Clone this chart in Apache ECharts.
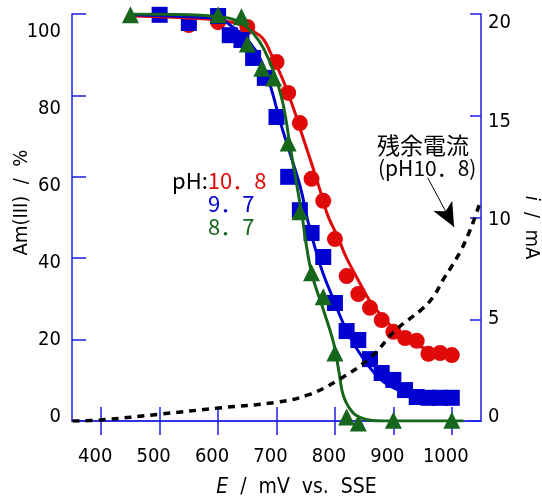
<!DOCTYPE html>
<html>
<head>
<meta charset="utf-8">
<script src="https://cdn.jsdelivr.net/npm/echarts@6/dist/echarts.min.js"></script>
<style>
  html, body { margin: 0; padding: 0; background: #fff; }
  #chart { width: 542px; height: 501px; }
</style>
</head>
<body>
<div id="chart"></div>
<script>
// measured points, E (mV vs SSE) and Am(III) remaining (%)
const redE = [550, 600, 650, 700, 720, 740, 760, 780, 800, 820, 840, 860, 880, 900, 920, 940, 960, 980, 1000];
const redAm = [97.3, 98, 96.8, 88.2, 80.6, 73.2, 59.5, 54.1, 44.7, 35.6, 31.2, 27.8, 24.8, 21.9, 20.4, 19.7, 16.5, 16.7, 16.2];

const blueE = [500, 550, 600, 620, 640, 660, 680, 700, 720, 740, 760, 780, 800, 820, 840, 860, 880, 900, 920, 940, 960, 980, 1000];
const blueAm = [99.8, 97.8, 99.5, 94.8, 93.6, 89.2, 84.3, 74.7, 60.0, 51.8, 46.2, 40.3, 29.0, 22.1, 19.9, 15.2, 11.8, 10.1, 7.6, 5.9, 5.7, 5.7, 5.7];

const greenE = [450, 600, 640, 650, 675, 695, 720, 740, 760, 780, 800, 820, 840, 900, 1000];
const greenAm = [99.8, 99.8, 99.3, 92.6, 86.7, 84.3, 68.3, 51.4, 36.4, 30.5, 16.7, 1.0, -0.5, 0.2, 0.2];

// fitted curves
const redFitE = [455, 500, 550, 600, 640, 656, 676, 690, 711, 730, 745, 762, 776, 788, 805, 819, 840, 862, 891, 918, 947, 977, 1000];
const redFitAm = [99.5, 99.3, 99.0, 98.5, 97.3, 96.1, 94.1, 90.4, 83.8, 76.4, 69.8, 62.4, 56.0, 50.4, 45.2, 40.3, 34.6, 29.0, 24.1, 20.6, 18.2, 17.0, 16.2];

const blueFitE = [455, 553, 601, 627, 651, 673, 690, 707, 725, 742, 754, 776, 798, 822, 850, 879, 908, 942, 1000];
const blueFitAm = [99.8, 99.3, 98.8, 96.6, 93.6, 88.7, 82.1, 73.2, 64.9, 56.8, 48.9, 37.8, 29.7, 21.6, 15.0, 10.1, 7.6, 5.9, 5.7];

const greenFitE = [455, 550, 617, 639, 660, 678, 696, 711, 725, 742, 759, 781, 798, 807, 815, 831, 850, 880, 1020];
const greenFitAm = [100, 99.8, 99.0, 97.8, 95.3, 91.5, 85.5, 78, 66, 52, 37, 27, 19, 12, 6, 2, 0.5, 0, 0];

// residual current (pH 10.8), mA
const currentE = [351, 399, 502, 601, 702, 754, 805, 862, 904, 947, 968, 987, 997, 1016, 1030, 1038, 1048];
const currentI = [0, 0.05, 0.34, 0.64, 0.93, 1.28, 2.0, 3.15, 4.47, 5.45, 6.09, 7.03, 7.47, 8.4, 9.29, 9.88, 10.7];

const xTicks = [400, 500, 600, 700, 800, 900, 1000];
const amTicks = [0, 20, 40, 60, 80, 100];
const iTicks = [0, 5, 10, 15, 20];

const zip = (a, b) => a.map((v, i) => [v, b[i]]);

const RED = "#e00a0a";
const BLUE = "#0000d0";
const GREEN = "#16661c";
const FRAME = "#1e1ee8";
const NUM_FONT = "'DejaVu Sans Condensed', 'Liberation Sans', sans-serif";
const JP_FONT = "'Noto Sans CJK JP', sans-serif";

// the original's tick labels sit a little off their ticks; nudge them the same way
function labelRich(ticks, shiftOf) {
  const rich = {};
  ticks.forEach((v) => {
    const d = shiftOf(v);
    rich["v" + v] = {
      fontFamily: NUM_FONT,
      fontSize: 20,
      color: "#000",
      padding: d > 0 ? [2 * d, 0, 0, 0] : [0, 0, -2 * d, 0],
    };
  });
  return rich;
}

const myChart = echarts.init(document.getElementById("chart"), null, { renderer: "canvas" });

const option = {
  animation: false,
  backgroundColor: "#fff",
  grid: { left: 72, right: 61, top: 14, bottom: 80, outerBoundsMode: "none" },
  xAxis: [
    {
      type: "value",
      min: 350,
      max: 1050,
      name: "{i|E}  /  mV  vs.  SSE",
      nameLocation: "middle",
      nameGap: 56,
      nameMoveOverlap: false,
      nameTextStyle: {
        fontFamily: NUM_FONT,
        fontSize: 21,
        color: "#000",
        padding: [0, 0, 0, 40],
        rich: { i: { fontStyle: "italic", fontSize: 21, fontFamily: NUM_FONT } },
      },
      axisLine: { lineStyle: { color: "#7272ee", width: 2 } },
      axisTick: { inside: true, length: 14, customValues: xTicks, lineStyle: { color: FRAME, width: 1.5 } },
      axisLabel: {
        customValues: xTicks,
        formatter: (v) => String(v),
        margin: 26,
        padding: [0, 12, 0, 0],
        fontFamily: NUM_FONT,
        fontSize: 20,
        color: "#000",
      },
      splitLine: { show: false },
    },
    {
      type: "value",
      position: "top",
      min: 350,
      max: 1050,
      axisLine: { show: true, lineStyle: { color: FRAME, width: 1.5 } },
      axisTick: { inside: true, length: 14, customValues: xTicks, lineStyle: { color: FRAME, width: 1.5 } },
      axisLabel: { show: false },
      splitLine: { show: false },
    },
  ],
  yAxis: [
    {
      type: "value",
      min: 0,
      max: 100,
      interval: 20,
      name: "Am(III)  /  %",
      nameLocation: "middle",
      nameGap: 40,
      nameMoveOverlap: false,
      nameTextStyle: { fontFamily: NUM_FONT, fontSize: 20, color: "#000", padding: [0, 0, 0, 30] },
      axisLine: { show: true, lineStyle: { color: FRAME, width: 1.5 } },
      axisTick: { inside: true, length: 14, lineStyle: { color: FRAME, width: 1.5 } },
      axisLabel: {
        margin: 11,
        formatter: (v) => "{v" + v + "|" + v + "}",
        rich: labelRich(amTicks, (v) => 18 - 0.22 * (100 - v)),
      },
      splitLine: { show: false },
    },
    {
      type: "value",
      position: "right",
      min: 0,
      max: 20,
      interval: 5,
      name: "{i|i}  /  mA",
      nameLocation: "middle",
      nameRotate: -90,
      nameGap: 40,
      nameMoveOverlap: false,
      nameTextStyle: {
        fontFamily: NUM_FONT,
        fontSize: 20,
        color: "#000",
        padding: [0, 0, 0, 20],
        rich: { i: { fontStyle: "italic", fontSize: 20, fontFamily: NUM_FONT } },
      },
      axisLine: { show: true, lineStyle: { color: FRAME, width: 1.5 } },
      axisTick: { inside: true, length: 11, lineStyle: { color: FRAME, width: 1.5 } },
      axisLabel: {
        margin: 7,
        formatter: (v) => "{v" + v + "|" + v + "}",
        rich: labelRich(iTicks, (v) => 9 - 0.65 * (20 - v)),
      },
      splitLine: { show: false },
    },
  ],
  series: [
    {
      name: "pH 10.8",
      type: "scatter",
      symbol: "circle",
      symbolSize: 16,
      itemStyle: { color: RED, opacity: 1 },
      data: zip(redE, redAm),
      clip: false,
      z: 2,
    },
    {
      name: "pH 9.7",
      type: "scatter",
      symbol: "rect",
      symbolSize: 16,
      itemStyle: { color: BLUE, opacity: 1 },
      data: zip(blueE, blueAm),
      clip: false,
      z: 2,
    },
    {
      name: "fit 10.8",
      type: "line",
      smooth: 0.4,
      showSymbol: false,
      lineStyle: { color: RED, width: 3 },
      data: zip(redFitE, redFitAm),
      z: 3,
    },
    {
      name: "fit 9.7",
      type: "line",
      smooth: 0.4,
      showSymbol: false,
      lineStyle: { color: BLUE, width: 3 },
      data: zip(blueFitE, blueFitAm),
      z: 3,
    },
    {
      name: "fit 8.7",
      type: "line",
      smooth: 0.4,
      showSymbol: false,
      lineStyle: { color: GREEN, width: 3 },
      data: zip(greenFitE, greenFitAm),
      z: 3,
    },
    {
      name: "pH 8.7",
      type: "scatter",
      symbol: "triangle",
      symbolSize: 17,
      itemStyle: { color: GREEN, opacity: 1 },
      data: zip(greenE, greenAm),
      clip: false,
      z: 4,
    },
    {
      name: "residual current",
      type: "line",
      yAxisIndex: 1,
      smooth: 0.4,
      showSymbol: false,
      lineStyle: { color: "#000", width: 3.5, type: [7, 6] },
      data: zip(currentE, currentI),
      z: 5,
      markLine: {
        silent: true,
        symbolSize: [16, 24],
        label: { show: false },
        lineStyle: { color: "#000", width: 1, type: "solid" },
        data: [[
          { coord: [959, 11.94], symbol: "none" },
          { coord: [1004, 9.53], symbol: "arrow" },
        ]],
      },
    },
  ],
  graphic: [
    {
      type: "text",
      left: 172,
      top: 170,
      style: {
        text: "{k|pH:}{r|10．8}",
        rich: {
          k: { fontFamily: JP_FONT, fontSize: 22, fill: "#000" },
          r: { fontFamily: JP_FONT, fontSize: 22, fill: RED },
        },
      },
    },
    {
      type: "text",
      left: 208,
      top: 193,
      style: { text: "9．7", fontFamily: JP_FONT, fontSize: 22, fill: BLUE },
    },
    {
      type: "text",
      left: 208,
      top: 216,
      style: { text: "8．7", fontFamily: JP_FONT, fontSize: 22, fill: GREEN },
    },
    {
      type: "text",
      left: 377,
      top: 134,
      style: { text: "残余電流", fontFamily: JP_FONT, fontSize: 23, fill: "#000" },
    },
    {
      type: "text",
      left: 378,
      top: 158,
      style: { text: "(pH10．8)", fontFamily: JP_FONT, fontSize: 21, fill: "#000" },
    },
  ],
};

myChart.setOption(option);
</script>
</body>
</html>
